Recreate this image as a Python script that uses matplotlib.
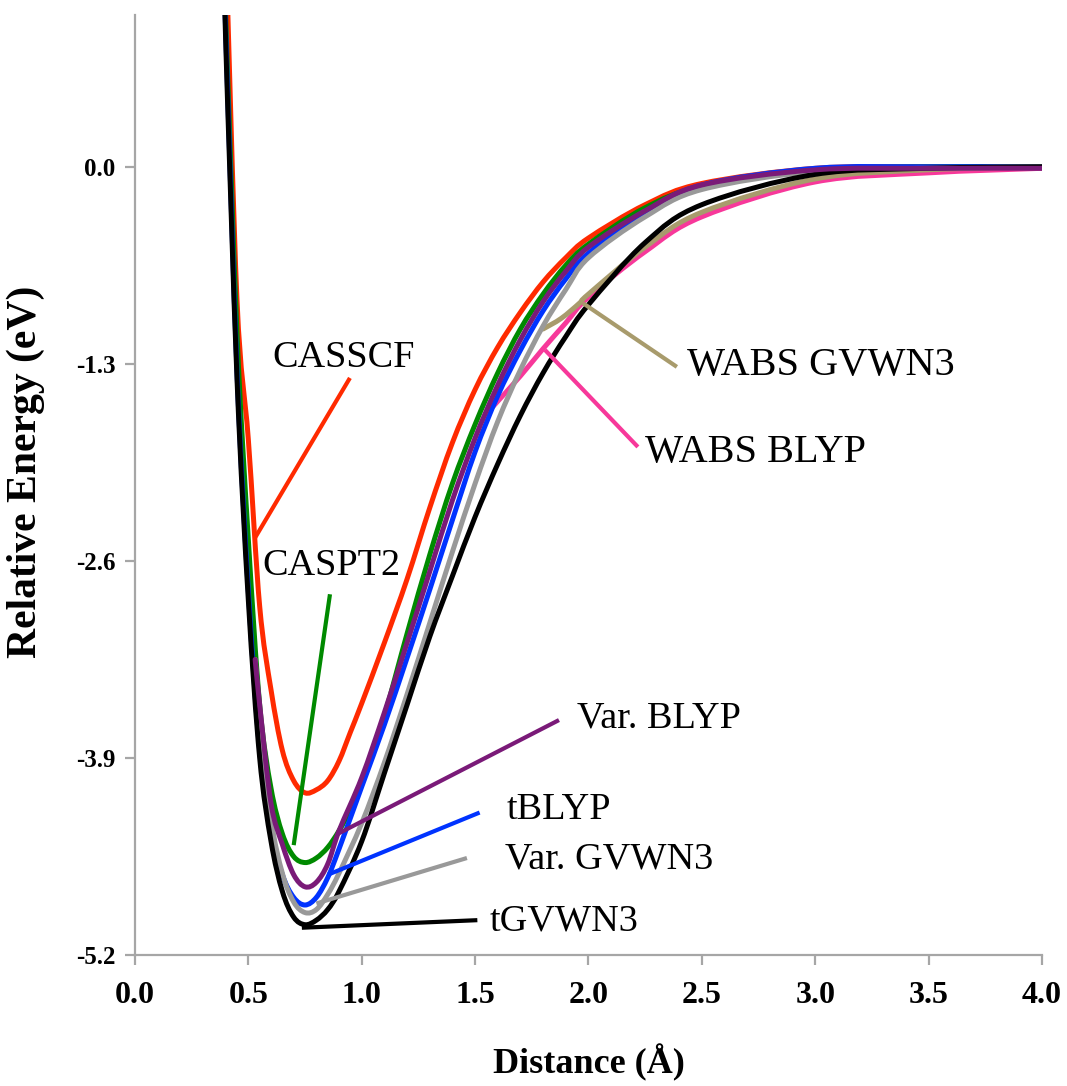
import numpy as np
import matplotlib
matplotlib.use("Agg")
import matplotlib.pyplot as plt
from matplotlib.path import Path
from matplotlib.patches import PathPatch

# distances (Angstrom) and relative energies (eV)
x_casscf = [0.39, 0.40, 0.45, 0.50, 0.55, 0.60, 0.65, 0.70, 0.75, 0.80, 0.85, 0.90, 0.95, 1.0,
            1.1, 1.2, 1.3, 1.4, 1.5, 1.6, 1.7, 1.8, 1.9, 2.0, 2.25, 2.5, 3.0, 3.5, 4.0]
y_casscf = [2.0, 1.5, -0.88, -1.80, -2.90, -3.45, -3.85, -4.05, -4.13, -4.11, -4.05, -3.92, -3.73, -3.54,
            -3.14, -2.72, -2.25, -1.82, -1.47, -1.19, -0.96, -0.76, -0.60, -0.47, -0.25, -0.11, -0.01, 0.0, 0.0]

x_caspt2 = [0.39, 0.40, 0.45, 0.50, 0.55, 0.60, 0.65, 0.70, 0.75, 0.80, 0.85, 0.90, 0.95, 1.0,
            1.1, 1.2, 1.3, 1.4, 1.5, 1.6, 1.7, 1.8, 1.9, 2.0, 2.25, 2.5, 3.0, 3.5, 4.0]
y_caspt2 = [1.6, 1.0, -1.1, -2.46, -3.55, -4.10, -4.40, -4.55, -4.59, -4.56, -4.49, -4.38, -4.24, -4.07,
            -3.62, -3.08, -2.56, -2.09, -1.70, -1.36, -1.07, -0.84, -0.65, -0.51, -0.27, -0.13, -0.02, 0.0, 0.0]

x_varblyp = [0.53, 0.55, 0.60, 0.65, 0.70, 0.75, 0.80, 0.85, 0.90, 1.0,
             1.1, 1.2, 1.3, 1.4, 1.5, 1.6, 1.7, 1.8, 1.9, 2.0, 2.25, 2.5, 3.0, 3.5, 4.0]
y_varblyp = [-3.25, -3.55, -4.20, -4.47, -4.67, -4.75, -4.72, -4.60, -4.38, -4.03,
             -3.60, -3.14, -2.67, -2.20, -1.79, -1.44, -1.14, -0.89, -0.69, -0.53, -0.29, -0.12, -0.02, -0.01, -0.01]

x_tblyp = [0.38, 0.40, 0.45, 0.50, 0.55, 0.60, 0.65, 0.70, 0.75, 0.80, 0.85, 0.90, 1.0,
           1.1, 1.2, 1.3, 1.4, 1.5, 1.6, 1.7, 1.8, 1.9, 2.0, 2.25, 2.5, 3.0, 3.5, 4.0]
y_tblyp = [1.9, 0.9, -1.35, -2.80, -3.85, -4.38, -4.67, -4.82, -4.87, -4.82, -4.69, -4.50, -4.09,
           -3.68, -3.24, -2.79, -2.33, -1.88, -1.51, -1.21, -0.95, -0.74, -0.57, -0.30, -0.12, -0.01, 0.0, 0.0]

x_vargvwn3 = [0.53, 0.55, 0.60, 0.65, 0.70, 0.75, 0.80, 0.85, 0.90, 1.0,
              1.1, 1.2, 1.3, 1.4, 1.5, 1.6, 1.7, 1.8, 1.9, 2.0, 2.25, 2.5, 3.0, 3.5, 4.0]
y_vargvwn3 = [-3.25, -3.60, -4.30, -4.66, -4.85, -4.92, -4.90, -4.80, -4.66, -4.33,
              -3.93, -3.48, -3.01, -2.54, -2.09, -1.68, -1.34, -1.05, -0.81, -0.60, -0.33, -0.15, -0.03, -0.01, 0.0]

x_tgvwn3 = [0.38, 0.40, 0.45, 0.50, 0.55, 0.60, 0.65, 0.70, 0.75, 0.80, 0.85, 0.90, 1.0,
            1.1, 1.2, 1.3, 1.4, 1.5, 1.6, 1.7, 1.8, 1.9, 2.0, 2.25, 2.5, 3.0, 3.5, 4.0]
y_tgvwn3 = [1.97, 0.83, -1.40, -2.86, -3.90, -4.45, -4.78, -4.95, -5.00, -4.97, -4.90, -4.78, -4.45,
            -4.00, -3.55, -3.10, -2.70, -2.31, -1.96, -1.64, -1.36, -1.12, -0.91, -0.50, -0.25, -0.05, -0.01, 0.0]

x_wabsblyp = [1.58, 1.7, 1.8, 1.9, 2.0, 2.25, 2.5, 3.0, 3.5, 4.0]
y_wabsblyp = [-1.58, -1.38, -1.20, -1.03, -0.86, -0.56, -0.33, -0.10, -0.04, -0.01]

x_wabsgvwn3 = [1.80, 1.88, 1.96, 2.0, 2.25, 2.5, 3.0, 3.5, 4.0]
y_wabsgvwn3 = [-1.07, -1.00, -0.90, -0.84, -0.53, -0.30, -0.08, -0.02, 0.0]

# label text, text anchor (left, baseline), leader line start/end
labels = ["CASSCF", "CASPT2", "Var. BLYP", "tBLYP", "Var. GVWN3", "tGVWN3", "WABS GVWN3", "WABS BLYP"]
label_xy = [(0.604, -1.32), (0.56, -2.69), (1.95, -3.70), (1.64, -4.30), (1.63, -4.63),
            (1.566, -5.04), (2.434, -1.373), (2.249, -1.947)]
leader_from = [(0.948, -1.393), (0.86, -2.82), (1.87, -3.65), (1.52, -4.26), (1.464, -4.56),
               (1.51, -4.97), (2.39, -1.32), (2.218, -1.848)]
leader_to = [(0.529, -2.449), (0.70, -4.475), (0.895, -4.40), (0.851, -4.67), (0.80, -4.86),
             (0.736, -5.02), (1.976, -0.90), (1.808, -1.208)]

colors = {
    "CASSCF": "#ff2a00", "CASPT2": "#008a00", "Var. BLYP": "#7a1a78", "tBLYP": "#0033ff",
    "Var. GVWN3": "#999999", "tGVWN3": "#000000", "WABS GVWN3": "#a89b6c", "WABS BLYP": "#f7389a",
}


def smooth(ax, xs, ys, color, lw):
    # smoothed line through the points (like excel's "smoothed line")
    pts = np.column_stack([xs, ys]).astype(float)
    n = len(pts)
    verts = [pts[0]]
    codes = [Path.MOVETO]
    for i in range(n - 1):
        p0 = pts[i - 1] if i > 0 else pts[i]
        p1 = pts[i]
        p2 = pts[i + 1]
        p3 = pts[i + 2] if i + 2 < n else pts[i + 1]
        verts += [p1 + (p2 - p0) / 6, p2 - (p3 - p1) / 6, p2]
        codes += [Path.CURVE4] * 3
    ax.add_patch(PathPatch(Path(verts, codes), fill=False, edgecolor=color, lw=lw,
                           capstyle="round", joinstyle="round"))


fig = plt.figure(figsize=(10.67, 10.86), dpi=100)
ax = fig.add_axes([0.1265, 0.1206, 0.85, 0.8654])

lw = 3.6
smooth(ax, x_wabsblyp, y_wabsblyp, colors["WABS BLYP"], lw)
smooth(ax, x_wabsgvwn3, y_wabsgvwn3, colors["WABS GVWN3"], lw)
smooth(ax, x_casscf, y_casscf, colors["CASSCF"], lw)
smooth(ax, x_caspt2, y_caspt2, colors["CASPT2"], lw)
smooth(ax, x_tblyp, y_tblyp, colors["tBLYP"], lw)
smooth(ax, x_vargvwn3, y_vargvwn3, colors["Var. GVWN3"], lw)
smooth(ax, x_tgvwn3, y_tgvwn3, colors["tGVWN3"], lw)
smooth(ax, x_varblyp, y_varblyp, colors["Var. BLYP"], lw)

for name, (tx, ty), (x0, y0), (x1, y1) in zip(labels, label_xy, leader_from, leader_to):
    ax.plot([x0, x1], [y0, y1], color=colors[name], lw=3.0, solid_capstyle="butt")
    fs = 29 if name.startswith("WABS") else 27.5
    ax.text(tx, ty, name, fontsize=fs, family="Liberation Serif", ha="left", va="baseline")

ax.set_xlim(0, 4.0)
ax.set_ylim(-5.2, 1.0)
ax.set_xticks(np.arange(0, 4.01, 0.5))
ax.set_yticks([-5.2, -3.9, -2.6, -1.3, 0.0])
ax.xaxis.set_major_formatter(matplotlib.ticker.FormatStrFormatter("%.1f"))
ax.yaxis.set_major_formatter(matplotlib.ticker.FormatStrFormatter("%.1f"))

for s in ["top", "right"]:
    ax.spines[s].set_visible(False)
for s in ["left", "bottom"]:
    ax.spines[s].set_color("#a6a6a6")
    ax.spines[s].set_linewidth(1.6)
ax.tick_params(axis="both", direction="out", length=7, width=1.6, color="#a6a6a6")
ax.tick_params(axis="x", pad=12)
ax.tick_params(axis="y", pad=7)
for lab in ax.get_xticklabels():
    lab.set_fontfamily("Liberation Serif")
    lab.set_fontweight("bold")
    lab.set_fontsize(23)
for lab in ax.get_yticklabels():
    lab.set_fontfamily("Liberation Serif")
    lab.set_fontweight("bold")
    lab.set_fontsize(18)

ax.set_xlabel("Distance (Å)", fontsize=26, fontweight="bold", family="Liberation Serif", labelpad=24)
ax.set_ylabel("Relative Energy (eV)", fontsize=30, fontweight="bold", family="Liberation Serif")
ax.yaxis.set_label_coords(-0.099, 0.514)

plt.savefig("out.png", dpi=100)
